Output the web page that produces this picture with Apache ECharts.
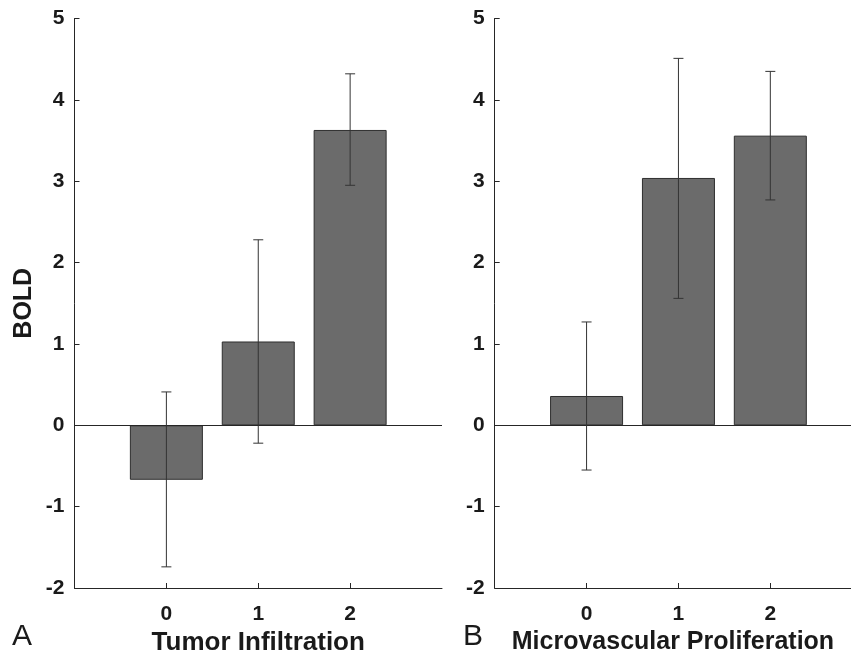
<!DOCTYPE html>
<html>
<head>
<meta charset="utf-8">
<script src="https://cdn.jsdelivr.net/npm/echarts@6/dist/echarts.min.js"></script>
<style>
html,body{margin:0;padding:0;background:#fff;}
#chart{width:851px;height:657px;}
</style>
</head>
<body>
<div id="chart"></div>
<script>
// ---- data ----
var categories = [0, 1, 2];
var yTicks = [-2, -1, 0, 1, 2, 3, 4, 5];

var tumorMean = [-0.67, 1.03, 3.63];
var tumorLow  = [-1.74, -0.22, 2.95];
var tumorHigh = [0.41, 2.28, 4.32];

var microMean = [0.36, 3.04, 3.56];
var microLow  = [-0.55, 1.56, 2.77];
var microHigh = [1.27, 4.51, 4.35];

var panelLetters = ['A', 'B'];
var xTitles = ['Tumor Infiltration', 'Microvascular Proliferation'];
var yTitle = 'BOLD';

// ---- chart ----
var FONT = '"Liberation Sans", Arial, Helvetica, sans-serif';
var AX = '#262626';
var chart = echarts.init(document.getElementById('chart'), null, {renderer: 'canvas'});

function xAxisDef(gi) {
  return {
    type: 'value', gridIndex: gi, min: -1, max: 3, interval: 1,
    name: xTitles[gi], nameLocation: 'middle', nameGap: 42,
    nameTextStyle: {
      fontFamily: FONT, fontWeight: 'bold', fontSize: gi === 0 ? 26 : 25, color: '#1a1a1a',
      padding: gi === 0 ? 0 : [0, 11, 0, 0]
    },
    axisLine: {show: true, onZero: false, lineStyle: {color: AX, width: 1}},
    axisTick: {show: true, inside: true, length: 5, customValues: categories, lineStyle: {color: AX}},
    axisLabel: {customValues: categories, margin: 16, fontFamily: FONT, fontWeight: 'bold', fontSize: 21, color: '#1a1a1a'},
    splitLine: {show: false}
  };
}
function yAxisDef(gi) {
  return {
    type: 'value', gridIndex: gi, min: yTicks[0], max: yTicks[yTicks.length - 1], interval: 1,
    name: gi === 0 ? yTitle : '', nameLocation: 'middle', nameGap: 38, nameRotate: 90,
    nameTextStyle: {fontFamily: FONT, fontWeight: 'bold', fontSize: 25, color: '#1a1a1a'},
    axisLine: {show: true, onZero: false, lineStyle: {color: AX, width: 1}},
    axisTick: {show: true, inside: true, length: 5, lineStyle: {color: AX}},
    axisLabel: {margin: 10, fontFamily: FONT, fontWeight: 'bold', fontSize: 21, color: '#1a1a1a'},
    splitLine: {show: false}
  };
}
function barSeries(gi, means) {
  return {
    type: 'bar', xAxisIndex: gi, yAxisIndex: gi, barWidth: 73,
    data: categories.map(function (c, i) { return [c, means[i]]; }),
    itemStyle: {color: '#6b6b6b', borderColor: '#2e2e2e', borderWidth: 1},
    silent: true,
    markLine: {
      silent: true, symbol: 'none', label: {show: false},
      lineStyle: {color: AX, width: 1, type: 'solid'},
      data: [{yAxis: 0}]
    }
  };
}
function errSeries(gi, lows, highs) {
  return {
    type: 'custom', xAxisIndex: gi, yAxisIndex: gi, z: 5, silent: true,
    data: categories.map(function (c, i) { return [c, lows[i], highs[i]]; }),
    renderItem: function (params, api) {
      var x = api.value(0);
      var pH = api.coord([x, api.value(2)]);
      var pL = api.coord([x, api.value(1)]);
      var cap = 5;
      var st = {stroke: '#333', lineWidth: 1};
      return {type: 'group', children: [
        {type: 'line', shape: {x1: pH[0], y1: pH[1], x2: pL[0], y2: pL[1]}, style: st},
        {type: 'line', shape: {x1: pH[0] - cap, y1: pH[1], x2: pH[0] + cap, y2: pH[1]}, style: st},
        {type: 'line', shape: {x1: pL[0] - cap, y1: pL[1], x2: pL[0] + cap, y2: pL[1]}, style: st}
      ]};
    }
  };
}

chart.setOption({
  backgroundColor: '#fff',
  animation: false,
  grid: [
    {left: 74.5, top: 18.5, width: 367.5, height: 569.5, outerBoundsMode: 'none', containLabel: false},
    {left: 494.7, top: 18.5, width: 367.5, height: 569.5, outerBoundsMode: 'none', containLabel: false}
  ],
  xAxis: [xAxisDef(0), xAxisDef(1)],
  yAxis: [yAxisDef(0), yAxisDef(1)],
  series: [
    barSeries(0, tumorMean), errSeries(0, tumorLow, tumorHigh),
    barSeries(1, microMean), errSeries(1, microLow, microHigh)
  ],
  graphic: [
    {type: 'text', left: 12, top: 622, style: {text: panelLetters[0], font: '30px ' + FONT, fill: '#1a1a1a'}},
    {type: 'text', left: 463, top: 622, style: {text: panelLetters[1], font: '30px ' + FONT, fill: '#1a1a1a'}}
  ]
});
</script>
</body>
</html>
